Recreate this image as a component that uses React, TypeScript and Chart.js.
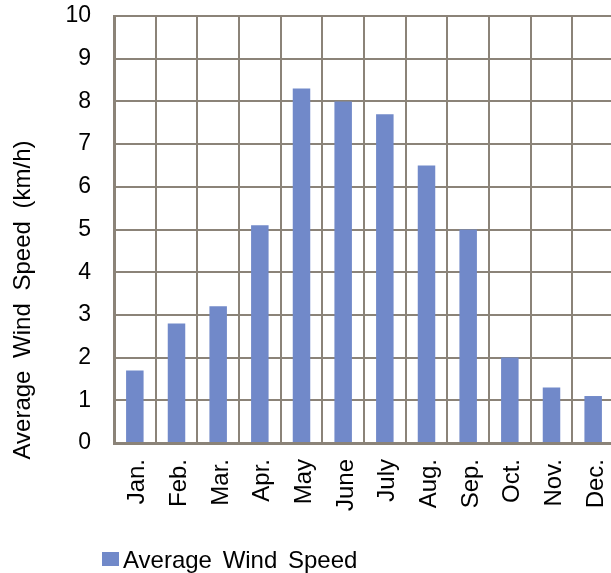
import { useEffect, useRef } from "react";
import { Chart, registerables } from "chart.js";

Chart.register(...registerables);

// Monthly averages, km/h
const months = ["Jan.", "Feb.", "Mar.", "Apr.", "May", "June", "July", "Aug.", "Sep.", "Oct.", "Nov.", "Dec."];
const avgWindSpeed = [1.7, 2.8, 3.2, 5.1, 8.3, 8.0, 7.7, 6.5, 5.0, 2.0, 1.3, 1.1];
const yTickValues = [0, 1, 2, 3, 4, 5, 6, 7, 8, 9, 10];

const seriesLabel = "Average Wind Speed";
const axisTitle = "Average Wind Speed (km/h)";

const FONT = '"Liberation Sans", Arial, Helvetica, sans-serif';
const TICK_SIZE = 23;
const TEXT_SIZE = 24;
const GRID = "#8b8378";
const BAR = "#7189c9";

// Rotated y-axis title, centred on the full canvas height
const sideTitle = {
  id: "sideTitle",
  afterDraw(chart: Chart) {
    const ctx = chart.ctx;
    ctx.save();
    ctx.translate(23, 300);
    ctx.rotate(-Math.PI / 2);
    ctx.font = `${TEXT_SIZE}px ${FONT}`;
    (ctx as any).wordSpacing = "6px";
    ctx.fillStyle = "#000";
    ctx.textAlign = "center";
    ctx.textBaseline = "middle";
    ctx.fillText(axisTitle, 0, 0);
    ctx.restore();
  },
};

// Single-entry legend below the month labels
const bottomLegend = {
  id: "bottomLegend",
  afterDraw(chart: Chart) {
    const ctx = chart.ctx;
    const ds = chart.data.datasets[0];
    ctx.save();
    ctx.fillStyle = ds.backgroundColor as string;
    ctx.fillRect(102, 552, 17, 14);
    ctx.font = `${TEXT_SIZE}px ${FONT}`;
    (ctx as any).wordSpacing = "4px";
    ctx.fillStyle = "#000";
    ctx.textAlign = "left";
    ctx.textBaseline = "alphabetic";
    ctx.fillText(ds.label as string, 123, 568);
    ctx.restore();
  },
};

export default function App() {
  const canvasRef = useRef<HTMLCanvasElement | null>(null);

  useEffect(() => {
    if (!canvasRef.current) return;
    const chart = new Chart(canvasRef.current, {
      type: "bar",
      data: {
        labels: months,
        datasets: [
          {
            label: seriesLabel,
            data: avgWindSpeed,
            backgroundColor: BAR,
            borderWidth: 0,
            categoryPercentage: 1,
            barPercentage: 0.42,
          },
        ],
      },
      options: {
        responsive: false,
        animation: false,
        layout: { padding: { top: 16, right: 0, bottom: 0, left: 0 } },
        plugins: {
          legend: { display: false },
          tooltip: { enabled: false },
          title: { display: false },
        },
        scales: {
          x: {
            offset: true,
            grid: { color: GRID, lineWidth: 2, drawTicks: false, offset: true },
            border: { color: GRID, width: 3 },
            ticks: {
              color: "#000",
              font: { family: FONT, size: 24 },
              maxRotation: 90,
              minRotation: 90,
              padding: 16,
              labelOffset: 3,
              autoSkip: false,
            },
            afterFit(axis: any) {
              axis.height = 130;
              axis.paddingLeft = 0;
              axis.paddingRight = 0;
            },
          },
          y: {
            min: 0,
            max: 10,
            grid: { color: GRID, lineWidth: 2, drawTicks: false },
            border: { color: GRID, width: 3 },
            ticks: {
              color: "#000",
              font: { family: FONT, size: TICK_SIZE },
              padding: 23,
              stepSize: 1,
            },
            afterBuildTicks(axis: any) {
              axis.ticks = yTickValues.map((v) => ({ value: v }));
            },
            afterFit(axis: any) {
              axis.width = 114;
              axis.paddingTop = 0;
              axis.paddingBottom = 0;
            },
          },
        },
      },
      plugins: [sideTitle, bottomLegend],
    });
    return () => chart.destroy();
  }, []);

  return (
    <div
      style={{
        position: "absolute",
        left: 0,
        top: 0,
        width: 611,
        height: 573,
        overflow: "hidden",
        background: "#fff",
      }}
    >
      <canvas ref={canvasRef} width={614} height={573} style={{ display: "block" }} />
    </div>
  );
}
